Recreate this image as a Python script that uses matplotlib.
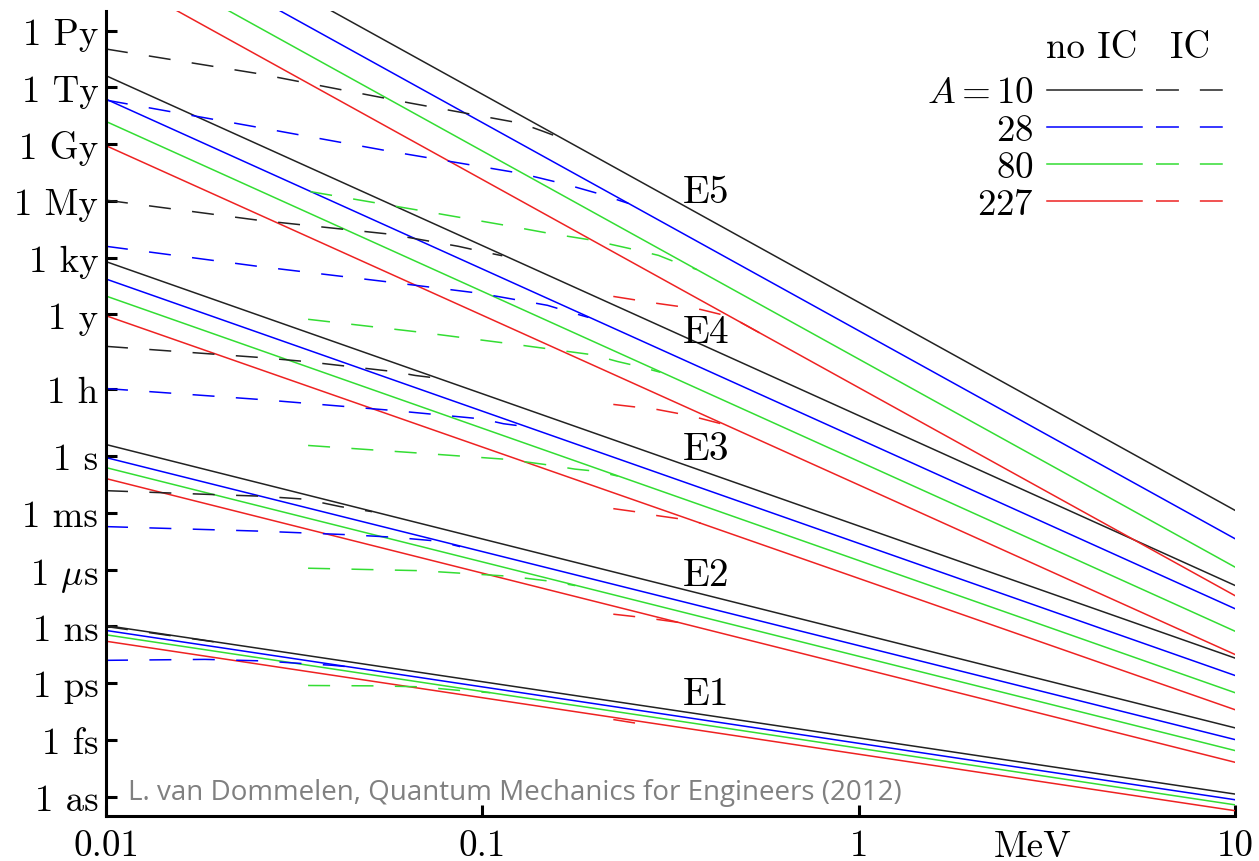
import numpy as np
import matplotlib.pyplot as plt
from matplotlib.lines import Line2D
from matplotlib.ticker import FixedLocator, FixedFormatter, NullLocator

plt.rcParams['font.family'] = 'cmr10'
plt.rcParams['mathtext.fontset'] = 'cm'
plt.rcParams['axes.formatter.use_mathtext'] = True

# mass numbers A and their colours
mass_labels = ['$A = 10$', '$28$', '$80$', '$227$']
colors = ['#222222', '#0000ff', '#33dd33', '#ee2222']

multipoles = ['E1', 'E2', 'E3', 'E4', 'E5']

# half-lives without internal conversion: log10(t/s) at 0.01 MeV and 10 MeV
E_ends = [0.01, 10.0]
noic_E1 = [[-8.95, -17.86], [-9.21, -18.16], [-9.44, -18.43], [-9.78, -18.74]]
noic_E2 = [[0.62, -14.36], [-0.07, -14.98], [-0.60, -15.56], [-1.18, -16.18]]
noic_E3 = [[10.29, -10.67], [9.37, -11.59], [8.47, -12.50], [7.43, -13.40]]
noic_E4 = [[20.12, -6.83], [18.88, -8.06], [17.70, -9.25], [16.42, -10.48]]
noic_E5 = [[30.14, -2.86], [28.64, -4.36], [27.14, -5.86], [25.63, -7.37]]

# half-lives with internal conversion: log10(E/MeV) and log10(t/s), per A
ic_E1_logE = [[-2.0, -1.71],
              [-2.0, -1.737, -1.585, -1.471, -1.400, -1.351],
              [-1.463, -1.285, -1.165, -1.051, -0.979],
              [-0.652, -0.580]]
ic_E1_logT = [[-9.00, -9.82],
              [-10.79, -10.74, -10.82, -10.97, -11.05, -11.14],
              [-12.12, -12.14, -12.19, -12.40, -12.50],
              [-13.92, -14.15]]

ic_E2_logE = [[-2.0, -1.710, -1.590, -1.471, -1.378, -1.293],
              [-2.0, -1.590, -1.356, -1.237, -1.117, -1.059],
              [-1.463, -1.165, -0.931, -0.872, -0.814, -0.753],
              [-0.652, -0.567, -0.473]]
ic_E2_logT = [[-1.82, -2.03, -2.11, -2.27, -2.66, -2.93],
              [-3.72, -3.96, -4.15, -4.28, -4.49, -4.78],
              [-5.92, -6.05, -6.34, -6.48, -6.62, -6.84],
              [-8.35, -8.54, -8.80]]

ic_E3_logE = [[-2.0, -1.590, -1.471, -1.237, -1.178, -1.120],
              [-2.0, -1.590, -1.237, -1.000, -0.944, -0.886],
              [-1.463, -1.170, -0.931, -0.814, -0.754, -0.694, -0.640],
              [-0.652, -0.594, -0.535, -0.479, -0.420]]
ic_E3_logT = [[5.81, 5.22, 5.01, 4.48, 4.27, 4.13],
              [3.58, 3.00, 2.42, 1.97, 1.72, 1.57],
              [0.57, 0.17, -0.17, -0.49, -0.68, -0.80, -1.05],
              [-2.77, -2.93, -3.14, -3.30, -3.53]]

ic_E4_logE = [[-2.0, -1.596, -1.245, -1.064, -1.005, -0.947],
              [-2.0, -1.596, -1.239, -1.005, -0.827, -0.774, -0.718],
              [-1.463, -1.170, -0.934, -0.705, -0.641, -0.585, -0.527],
              [-0.652, -0.535, -0.479, -0.420, -0.362]]
ic_E4_logT = [[13.54, 12.48, 11.74, 11.10, 10.84, 10.60],
              [11.10, 10.04, 9.19, 8.61, 7.98, 7.66, 7.34],
              [7.24, 6.57, 5.97, 5.36, 5.01, 4.75, 4.44],
              [2.74, 2.47, 2.26, 2.00, 1.70]]

ic_E5_logE = [[-2.0, -1.596, -1.191, -0.957, -0.899, -0.840, -0.785],
              [-2.0, -1.596, -1.245, -0.899, -0.779, -0.694, -0.612],
              [-1.457, -1.170, -0.939, -0.824, -0.707, -0.588, -0.532, -0.479, -0.430],
              [-0.652, -0.535, -0.420, -0.340, -0.253]]
ic_E5_logT = [[21.53, 20.23, 18.67, 17.82, 17.61, 17.19, 16.78],
              [18.83, 17.39, 16.12, 14.96, 14.38, 13.90, 13.37],
              [13.99, 13.01, 12.21, 11.79, 11.42, 10.89, 10.62, 10.20, 9.87],
              [8.45, 8.08, 7.76, 7.37, 6.41]]

noic_all = [noic_E1, noic_E2, noic_E3, noic_E4, noic_E5]
ic_logE_all = [ic_E1_logE, ic_E2_logE, ic_E3_logE, ic_E4_logE, ic_E5_logE]
ic_logT_all = [ic_E1_logT, ic_E2_logT, ic_E3_logT, ic_E4_logT, ic_E5_logT]

# multipole label positions
label_E = 0.394
label_logT = [-12.56, -6.29, 0.40, 6.54, 13.96]

# axis ticks
xticks = [0.01, 0.1, 1, 10]
xtick_labels = ['0.01', '0.1', '1', '10']
yticks = [1e-18, 1e-15, 1e-12, 1e-9, 1e-6, 1e-3, 1, 3600,
          3.156e7, 3.156e10, 3.156e13, 3.156e16, 3.156e19, 3.156e22]
ytick_labels = ['1 as', '1 fs', '1 ps', '1 ns', '1 $\\mu$s', '1 ms', '1 s', '1 h',
                '1 y', '1 ky', '1 My', '1 Gy', '1 Ty', '1 Py']

fs = 26.6
lw = 1.1
dash = (0, (14.4, 14.0))

fig = plt.figure(figsize=(12.59, 8.62), dpi=100)
ax = fig.add_axes([106 / 1259, 45 / 862, 1129 / 1259, 805 / 862])

for noic in noic_all:
    for k in range(4):
        ax.plot(E_ends, 10.0 ** np.array(noic[k]), color=colors[k], lw=lw)

for logE, logT in zip(ic_logE_all, ic_logT_all):
    for k in range(4):
        ax.plot(10.0 ** np.array(logE[k]), 10.0 ** np.array(logT[k]),
                color=colors[k], lw=lw, linestyle=dash)

for name, lt in zip(multipoles, label_logT):
    ax.text(label_E, 10.0 ** lt, name, ha='center', va='center', fontsize=28.5)

ax.set_xscale('log')
ax.set_yscale('log')
ax.set_xlim(0.01, 10)
ax.set_ylim(10 ** -19.02, 10 ** 23.54)

ax.xaxis.set_major_locator(FixedLocator(xticks))
ax.xaxis.set_major_formatter(FixedFormatter(xtick_labels))
ax.yaxis.set_major_locator(FixedLocator(yticks))
ax.yaxis.set_major_formatter(FixedFormatter(ytick_labels))
ax.xaxis.set_minor_locator(NullLocator())
ax.yaxis.set_minor_locator(NullLocator())

for s in ['top', 'right']:
    ax.spines[s].set_visible(False)
for s in ['left', 'bottom']:
    ax.spines[s].set_linewidth(2.2)
ax.tick_params(which='major', direction='in', length=8, width=2.2,
               labelsize=fs)
ax.tick_params(axis='x', pad=9)
ax.tick_params(axis='y', pad=5.5)

ax.text(0.821, -0.0497, 'MeV', transform=ax.transAxes, ha='center',
        va='baseline', fontsize=fs)

# legend: solid (no IC) and dashed (IC) columns
solid_h = [Line2D([], [], color=c, lw=lw) for c in colors]
dash_h = [Line2D([], [], color=c, lw=lw, linestyle=(0, (15.0, 13.7, 15.0, 100)))
          for c in colors]
ax.legend(solid_h + dash_h, mass_labels + [''] * 4, ncol=2, markerfirst=False,
          frameon=False, fontsize=fs, handlelength=2.59, handletextpad=0.35,
          columnspacing=0.03, labelspacing=0.11, borderpad=0, borderaxespad=0,
          loc='upper right', bbox_to_anchor=(1.015, 0.919))
ax.text(0.8733, 0.9429, 'no IC', transform=ax.transAxes, ha='center',
        va='baseline', fontsize=fs)
ax.text(0.9601, 0.9429, 'IC', transform=ax.transAxes, ha='center',
        va='baseline', fontsize=fs)

ax.text(0.0195, 0.0211, 'L. van Dommelen, Quantum Mechanics for Engineers (2012)',
        transform=ax.transAxes, family='Open Sans', fontsize=20, color='#808080',
        va='baseline')

fig.savefig('out.png', dpi=100)
